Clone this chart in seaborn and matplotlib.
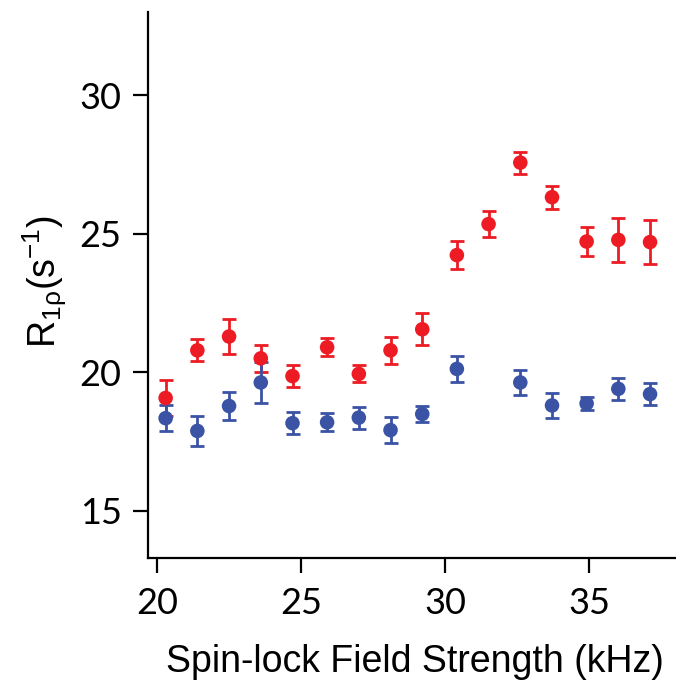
import numpy as np
import pandas as pd
import seaborn as sns
import matplotlib.pyplot as plt

# -----------------------------------------------------------------------------
# Data
# -----------------------------------------------------------------------------
field_red = [20.3, 21.4, 22.5, 23.6, 24.7, 25.9, 27.0, 28.1,
             29.2, 30.4, 31.5, 32.6, 33.7, 34.9, 36.0, 37.1]
r1rho_red = [19.07, 20.79, 21.29, 20.50, 19.86, 20.90, 19.94, 20.79,
             21.55, 24.23, 25.35, 27.57, 26.32, 24.72, 24.78, 24.70]
err_red = [0.65, 0.40, 0.62, 0.50, 0.39, 0.33, 0.31, 0.50,
           0.58, 0.50, 0.47, 0.40, 0.41, 0.51, 0.80, 0.79]

field_blue = [20.3, 21.4, 22.5, 23.6, 24.7, 25.9, 27.0, 28.1,
              29.2, 30.4, 32.6, 33.7, 34.9, 36.0, 37.1]
r1rho_blue = [18.34, 17.88, 18.78, 19.63, 18.16, 18.19, 18.36, 17.91,
              18.49, 20.12, 19.63, 18.80, 18.87, 19.40, 19.21]
err_blue = [0.46, 0.54, 0.49, 0.75, 0.39, 0.33, 0.40, 0.48,
            0.29, 0.46, 0.45, 0.45, 0.23, 0.40, 0.39]

x_ticks = [20, 25, 30, 35]
y_ticks = [15, 20, 25, 30]

RED = '#ED1C24'
BLUE = '#3A53A4'

df = pd.concat([
    pd.DataFrame({'field': field_red, 'r1rho': r1rho_red, 'err': err_red, 'series': 'red'}),
    pd.DataFrame({'field': field_blue, 'r1rho': r1rho_blue, 'err': err_blue, 'series': 'blue'}),
], ignore_index=True)

# -----------------------------------------------------------------------------
# Plot
# -----------------------------------------------------------------------------
sns.set_style("ticks")
plt.rcParams['font.family'] = ['DejaVu Sans']
plt.rcParams['mathtext.default'] = 'regular'
plt.rcParams['text.color'] = 'black'
plt.rcParams['axes.labelcolor'] = 'black'

fig = plt.figure(figsize=(6.76, 6.81), dpi=100)
ax = fig.add_axes([0.219, 0.181, 0.781, 0.801])

palette = {'red': RED, 'blue': BLUE}
for name in ['red', 'blue']:
    sub = df[df['series'] == name]
    ax.errorbar(sub['field'], sub['r1rho'], yerr=sub['err'], fmt='none',
                ecolor=palette[name], elinewidth=2.0, capsize=5, capthick=2.0,
                zorder=2)

sns.scatterplot(data=df, x='field', y='r1rho', hue='series', palette=palette,
                hue_order=['red', 'blue'], s=110, edgecolor='none', legend=False,
                ax=ax, zorder=3)

ax.set_xlim(19.69, 38.0)
ax.set_ylim(13.3, 33.0)
ax.set_xticks(x_ticks)
ax.set_yticks(y_ticks)
ax.tick_params(axis='both', which='major', labelsize=26, length=11, width=1.6,
               direction='out', colors='black', labelcolor='black')
ax.tick_params(axis='x', pad=10)
ax.tick_params(axis='y', pad=8)
for lab in ax.get_xticklabels() + ax.get_yticklabels():
    lab.set_family('Lato')
for s in ['left', 'bottom']:
    ax.spines[s].set_linewidth(1.6)
    ax.spines[s].set_color('black')
sns.despine(ax=ax)

ax.set_xlabel('Spin-lock Field Strength (kHz)', fontsize=27,
              family='Liberation Sans', color='black')
ax.xaxis.set_label_coords(0.506, -0.158)
ax.set_ylabel(r'R$_{1\rho}$(s$^{-1}$)', fontsize=27, family='Liberation Sans',
              color='black')
ax.yaxis.set_label_coords(-0.15, 0.506)

fig.savefig('out.png', dpi=100)
plt.close(fig)
